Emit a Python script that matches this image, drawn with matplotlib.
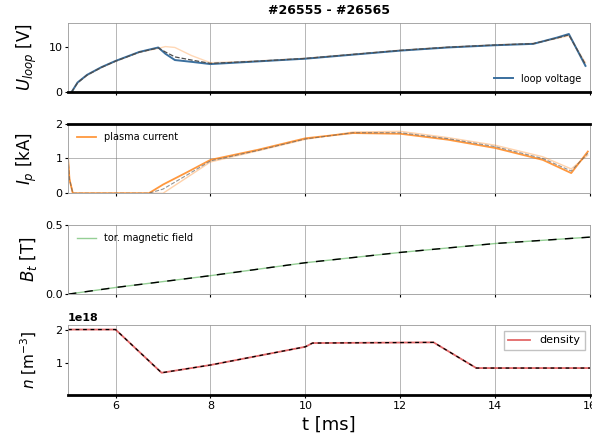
import matplotlib
matplotlib.use("Agg")
import matplotlib.pyplot as plt
import numpy as np

# shots #26555 - #26565
t_u = [5.07, 5.2, 5.4, 5.7, 6.0, 6.5, 6.9, 7.05, 7.25, 7.6, 8.0, 9.0, 10.0,
       11.0, 12.0, 13.0, 14.0, 14.8, 15.3, 15.55, 15.9]
u_a = [0, 2.2, 3.9, 5.6, 7.0, 9.0, 10.0, 8.6, 7.2, 6.8, 6.3, 6.9, 7.5,
       8.4, 9.3, 10.0, 10.5, 10.8, 12.2, 13.0, 5.9]
u_b = [0, 2.1, 3.8, 5.5, 6.9, 8.9, 9.8, 10.2, 10.0, 8.2, 6.6, 7.0, 7.6,
       8.5, 9.4, 10.1, 10.6, 10.9, 12.0, 12.6, 6.6]
u_m = [0, 2.15, 3.85, 5.55, 6.95, 8.95, 9.9, 9.0, 7.9, 7.2, 6.45, 6.95, 7.55,
       8.45, 9.35, 10.05, 10.55, 10.85, 12.1, 12.8, 6.2]

t_i = [5.0, 5.03, 5.1, 6.0, 6.7, 7.0, 7.5, 8.0, 9.0, 10.0, 11.0, 12.0, 13.0,
       14.0, 15.0, 15.6, 15.95]
i_a = [1.0, 0.4, 0, 0, 0, 0.25, 0.6, 0.96, 1.25, 1.58, 1.73, 1.71, 1.54,
       1.3, 0.96, 0.58, 1.2]
i_b = [1.0, 0.4, 0, 0, 0, 0, 0.45, 0.9, 1.22, 1.55, 1.76, 1.78, 1.6,
       1.38, 1.05, 0.7, 1.1]
i_m = [1.0, 0.4, 0, 0, 0, 0.12, 0.52, 0.93, 1.23, 1.56, 1.74, 1.74, 1.57,
       1.34, 1.0, 0.64, 1.15]

t_b = [5.0, 6.0, 8.0, 10.0, 12.0, 14.0, 16.0]
b_t = [0.0, 0.048, 0.133, 0.226, 0.30, 0.364, 0.41]

t_n = [5.0, 6.0, 6.97, 8.0, 10.0, 10.15, 12.7, 13.6, 16.0]
n_e = [2.0, 2.0, 0.72, 0.95, 1.49, 1.6, 1.62, 0.86, 0.86]  # 1e18 m^-3

fig, axs = plt.subplots(4, 1, figsize=(5.92, 4.38), dpi=100, sharex=True)
plt.subplots_adjust(left=0.115, right=0.997, top=0.948, bottom=0.098, hspace=0.45)

ax = axs[0]
ax.plot(t_u, u_b, color='tab:orange', alpha=0.3, lw=1)
ax.plot(t_u, u_a, color='#3a6f9e', lw=1.4, label='loop voltage')
ax.plot(t_u, u_m, color='0.3', lw=0.9, ls='--')
ax.set_ylim(0, 15.5)
ax.set_yticks([0, 10])
ax.set_ylabel('$U_{loop}$ [V]', fontsize=12)
ax.set_title('#26555 - #26565', fontsize=9, fontweight='bold')
ax.legend(loc='lower right', frameon=False, fontsize=7)

ax = axs[1]
ax.plot(t_i, i_b, color='tab:orange', alpha=0.35, lw=1)
ax.plot(t_i, i_a, color='tab:orange', lw=1.3, alpha=0.8, label='plasma current')
ax.plot(t_i, i_m, color='0.4', lw=0.8, ls='--', alpha=0.7)
ax.set_ylim(0, 2)
ax.set_yticks([0, 1, 2])
ax.set_ylabel('$I_p$ [kA]', fontsize=12)
ax.legend(loc='upper left', frameon=False, fontsize=7)

ax = axs[2]
ax.plot(t_b, b_t, color='tab:green', lw=1, alpha=0.5, label='tor. magnetic field')
ax.plot(t_b, b_t, color='k', lw=1, ls=(0, (6, 6)))
ax.set_ylim(0, 0.5)
ax.set_yticks([0.0, 0.5])
ax.set_ylabel('$B_t$ [T]', fontsize=12)
ax.legend(loc='upper left', frameon=False, fontsize=7)

ax = axs[3]
n_abs = np.array(n_e) * 1e18
ax.plot(t_n, n_abs, color='tab:red', lw=1.3, alpha=0.7, label='density')
ax.plot(t_n, n_abs, color='k', lw=0.9, ls=(0, (3, 3)))
ax.set_ylim(0.06e18, 2.12e18)
ax.set_yticks([1e18, 2e18])
ax.set_ylabel('$n$ [m$^{-3}$]', fontsize=11)
ax.set_xlabel('t [ms]', fontsize=13)
ax.legend(loc='upper right', fontsize=8, fancybox=False, edgecolor='0.7')
ax.yaxis.get_offset_text().set_fontsize(8)
ax.yaxis.get_offset_text().set_fontweight('bold')

ax.set_xlim(5, 16)
ax.set_xticks([6, 8, 10, 12, 14, 16])

for a in axs:
    a.grid(True, axis='x', color='0.45', lw=0.6, alpha=0.6)
    a.tick_params(labelsize=8, length=2, pad=2)
    for s in a.spines.values():
        s.set_color('0.6')
        s.set_linewidth(0.6)
axs[1].grid(True, axis='y', color='0.45', lw=0.6, alpha=0.6)

for a, side in [(axs[0], 'bottom'), (axs[1], 'top'), (axs[3], 'bottom')]:
    a.spines[side].set_color('k')
    a.spines[side].set_linewidth(2)

fig.align_ylabels(axs)
plt.savefig('out.png', dpi=100)
